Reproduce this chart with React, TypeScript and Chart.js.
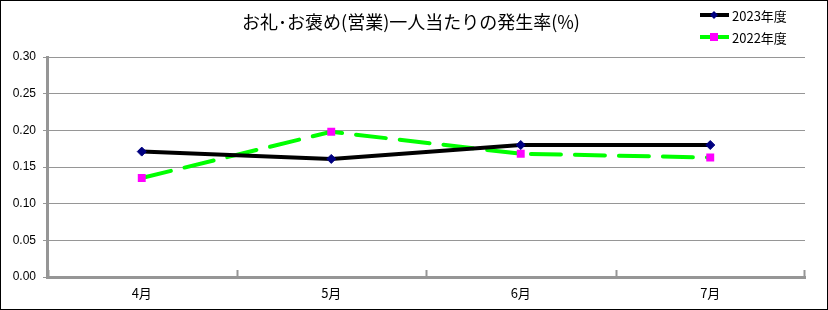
import React, { useEffect, useRef } from "react";
import { Chart, registerables } from "chart.js";

Chart.register(...registerables);

const TITLE = "お礼･お褒め(営業)一人当たりの発生率(%)";
const MONTHS = ["4月", "5月", "6月", "7月"];
const SERIES_2023_LABEL = "2023年度";
const SERIES_2022_LABEL = "2022年度";
const VALUES_2023 = [0.171, 0.161, 0.18, 0.18];
const VALUES_2022 = [0.135, 0.198, 0.168, 0.163];
const Y_MIN = 0;
const Y_MAX = 0.3;
const Y_STEP = 0.05;

const AXIS_GRAY = "#969696";

const decorPlugin = {
  id: "decor",
  afterDraw(chart: any) {
    const ctx = chart.ctx;
    const xs = chart.scales.x;
    const area = chart.chartArea;
    ctx.save();
    // x-axis tick marks (between categories, pointing up)
    ctx.strokeStyle = AXIS_GRAY;
    ctx.lineWidth = 2;
    const n = chart.data.labels.length;
    const bounds: number[] = [area.left + 0.5];
    for (let i = 1; i < n; i++) {
      bounds.push((xs.getPixelForValue(i - 1) + xs.getPixelForValue(i)) / 2);
    }
    bounds.push(area.right - 1);
    bounds.forEach((bx) => {
      ctx.beginPath();
      ctx.moveTo(Math.round(bx) + 0.5, area.bottom);
      ctx.lineTo(Math.round(bx) + 0.5, area.bottom - 7);
      ctx.stroke();
    });

    // title
    ctx.fillStyle = "#000";
    ctx.font = '18px "Noto Sans CJK JP"';
    ctx.textAlign = "center";
    ctx.textBaseline = "middle";
    ctx.fillText(TITLE, 410, 21);

    // legend
    const items = chart.data.datasets.map((ds: any) => ds);
    const rows = [14, 36];
    items.forEach((ds: any, i: number) => {
      const y = rows[i];
      ctx.strokeStyle = ds.borderColor;
      ctx.lineWidth = 4;
      ctx.setLineDash([]);
      ctx.beginPath();
      ctx.moveTo(699, y);
      ctx.lineTo(728, y);
      ctx.stroke();
      ctx.fillStyle = ds.pointBackgroundColor;
      ctx.strokeStyle = ds.pointBorderColor;
      ctx.lineWidth = 1;
      if (ds.pointStyle === "rect") {
        ctx.fillRect(709, y - 4, 8, 8);
      } else {
        ctx.beginPath();
        ctx.moveTo(713, y - 4);
        ctx.lineTo(717, y);
        ctx.lineTo(713, y + 4);
        ctx.lineTo(709, y);
        ctx.closePath();
        ctx.fill();
      }
      ctx.fillStyle = "#000";
      ctx.font = '13px "Noto Sans CJK JP"';
      ctx.textAlign = "left";
      ctx.textBaseline = "middle";
      ctx.fillText(ds.label, 731, y + 1);
    });
    ctx.restore();
  },
};

export default function App() {
  const ref = useRef<HTMLCanvasElement | null>(null);

  useEffect(() => {
    document.body.style.margin = "0";
    if (!ref.current) return;
    const chart = new Chart(ref.current, {
      type: "line",
      data: {
        labels: MONTHS,
        datasets: [
          {
            label: SERIES_2023_LABEL,
            data: VALUES_2023,
            borderColor: "#000000",
            borderWidth: 4,
            pointStyle: "rectRot",
            pointRadius: 4.5,
            pointBackgroundColor: "#000080",
            pointBorderColor: "#000080",
            pointBorderWidth: 1,
            tension: 0,
          },
          {
            label: SERIES_2022_LABEL,
            data: VALUES_2022,
            borderColor: "#00ff00",
            borderWidth: 4,
            borderDash: [30, 14],
            borderCapStyle: "round",
            pointStyle: "rect",
            pointRadius: 5.6,
            pointBackgroundColor: "#ff00ff",
            pointBorderColor: "#ff00ff",
            pointBorderWidth: 0,
            tension: 0,
          },
        ],
      } as any,
      options: {
        animation: false,
        responsive: false,
        devicePixelRatio: 1,
        layout: { padding: { top: 56, right: 22, bottom: 0, left: 0 } },
        plugins: {
          legend: { display: false },
          title: { display: false },
          tooltip: { enabled: false },
        },
        scales: {
          x: {
            type: "category",
            offset: true,
            grid: { display: false, offset: true, drawTicks: false },
            border: { display: true, color: AXIS_GRAY, width: 3 },
            ticks: {
              color: "#000",
              font: { family: '"Noto Sans CJK JP"', size: 13 },
              padding: 8,
            },
            afterFit(scale: any) {
              scale.height = 32;
            },
          },
          y: {
            min: Y_MIN,
            max: Y_MAX,
            border: { display: true, color: AXIS_GRAY, width: 3 },
            grid: {
              color: AXIS_GRAY,
              lineWidth: 1,
              drawTicks: true,
              tickLength: 4,
              tickColor: AXIS_GRAY,
            },
            ticks: {
              stepSize: Y_STEP,
              color: "#000",
              font: { family: '"Liberation Sans"', size: 12 },
              padding: 7,
              callback: (v: any) => Number(v).toFixed(2),
            },
            afterFit(scale: any) {
              scale.width = 46;
            },
          },
        },
      } as any,
      plugins: [decorPlugin],
    });
    return () => chart.destroy();
  }, []);

  return (
    <div
      style={{
        width: 828,
        height: 310,
        boxSizing: "border-box",
        border: "1px solid #000",
        position: "relative",
        overflow: "hidden",
        background: "#fff",
      }}
    >
      <canvas
        ref={ref}
        width={826}
        height={308}
        style={{ display: "block", width: 826, height: 308 }}
      />
    </div>
  );
}
